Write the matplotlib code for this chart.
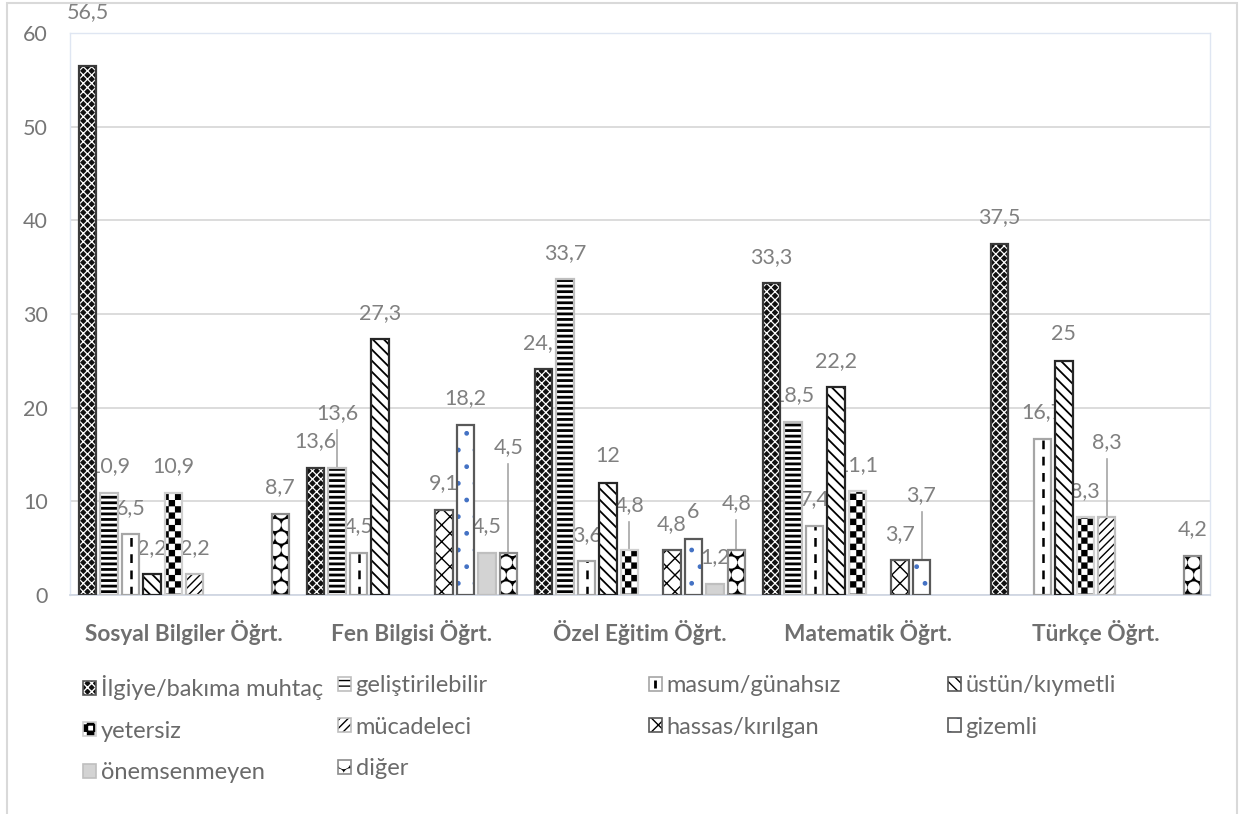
import warnings
warnings.filterwarnings("ignore")
import numpy as np
import matplotlib
matplotlib.use("Agg")
import matplotlib.pyplot as plt
from matplotlib import hatch as mhatch
from matplotlib.path import Path
from matplotlib.patches import Patch, Rectangle
from matplotlib.lines import Line2D
from matplotlib.legend_handler import HandlerTuple

# ---------------- data ----------------
categories = ['Sosyal Bilgiler Öğrt.', 'Fen Bilgisi Öğrt.', 'Özel Eğitim Öğrt.',
              'Matematik Öğrt.', 'Türkçe Öğrt.']
series_names = ['İlgiye/bakıma muhtaç', 'geliştirilebilir', 'masum/günahsız',
                'üstün/kıymetli', 'yetersiz', 'mücadeleci', 'hassas/kırılgan',
                'gizemli', 'önemsenmeyen', 'diğer']
ilgiye = [56.5, 13.6, 24.1, 33.3, 37.5]
gelistirilebilir = [10.9, 13.6, 33.7, 18.5, 0]
masum = [6.5, 4.5, 3.6, 7.4, 16.7]
ustun = [2.2, 27.3, 12, 22.2, 25]
yetersiz = [10.9, 0, 4.8, 11.1, 8.3]
mucadeleci = [2.2, 0, 0, 0, 8.3]
hassas = [0, 9.1, 4.8, 3.7, 0]
gizemli = [0, 18.2, 6, 3.7, 0]
onemsenmeyen = [0, 4.5, 1.2, 0, 0]
diger = [8.7, 4.5, 4.8, 0, 4.2]
series_values = [ilgiye, gelistirilebilir, masum, ustun, yetersiz, mucadeleci,
                 hassas, gizemli, onemsenmeyen, diger]
y_ticks = [0, 10, 20, 30, 40, 50, 60]

# labels moved by hand in the original (group, series) -> label height
label_moves = {(0, 0): 62.2, (1, 1): 19.4, (1, 9): 15.8, (2, 4): 9.6,
               (2, 9): 9.8, (3, 7): 10.7, (4, 5): 16.3}
leader = {(1, 1), (1, 9), (2, 4), (2, 9), (3, 7), (4, 5)}


# ---------------- custom hatches ----------------
class CheckerHatch(mhatch.HatchPatternBase):
    def __init__(self, hatch, density):
        self.n = hatch.count('c') * 16
        self.num_vertices = (self.n * self.n // 2) * 5 if self.n else 0

    def set_vertices_and_codes(self, vertices, codes):
        s = 1.0 / self.n
        verts = []
        for i in range(self.n):
            for j in range(self.n):
                if (i + j) % 2 == 0:
                    x0, y0 = i * s, j * s
                    verts.append([[x0, y0], [x0 + s, y0], [x0 + s, y0 + s],
                                  [x0, y0 + s], [x0, y0]])
        vertices[:] = np.array(verts).reshape(-1, 2)
        c = [Path.MOVETO, Path.LINETO, Path.LINETO, Path.LINETO, Path.CLOSEPOLY]
        codes[:] = np.tile(c, len(verts))


class BigFilledCircles(mhatch.Shapes):
    size = 0.48
    filled = True

    def __init__(self, hatch, density):
        self.num_rows = hatch.count('k') * 8
        path = Path.unit_circle()
        self.shape_vertices = path.vertices
        self.shape_codes = path.codes
        super().__init__(hatch, density)


mhatch._hatch_types.append(CheckerHatch)
mhatch._hatch_types.append(BigFilledCircles)

# face, hatch, hatch colour, hatch lw, edge colour
styles = [
    ('#111111', 'xxxx', 'white', 0.9, '#3a3a3a'),
    ('white', '---', 'black', 2.0, '#bfbfbf'),
    ('white', None, 'black', 1.0, '#a6a6a6'),
    ('white', '\\\\\\', 'black', 1.3, '#262626'),
    ('white', 'c', 'black', 0.1, '#d0d0d0'),
    ('white', '////', 'black', 1.0, '#bfbfbf'),
    ('white', 'xx', 'black', 1.0, '#595959'),
    ('white', '.', '#4472c4', 1.0, '#595959'),
    ('#d3d3d3', None, 'black', 1.0, '#bfbfbf'),
    ('black', 'k', 'white', 0.1, '#8c8c8c'),
]

# ---------------- figure ----------------
plt.rcParams['font.family'] = ['Lato', 'DejaVu Sans']
W, H = 1239, 814
fig = plt.figure(figsize=(W / 100, H / 100), dpi=100)
ax = fig.add_axes([70 / W, 1 - 595 / H, 1140 / W, 562 / H])

n_groups = len(categories)
centers = np.arange(n_groups) + 0.5
slot = 21.4 / 228
width = 17.5 / 228

label_color = '#808080'
label_size = 15.5
handles = []
for si, (vals, st) in enumerate(zip(series_values, styles)):
    face, hatch, hcol, hlw, ecol = st
    vals = np.asarray(vals, dtype=float)
    xs = centers + (si - 4.5) * slot
    m = vals > 0
    with plt.rc_context({'hatch.linewidth': hlw}):
        fill = ax.bar(xs[m], vals[m], width, color=face, hatch=hatch,
                      edgecolor=hcol, linewidth=0, zorder=3)
        for p in fill:
            if hasattr(p, 'set_hatch_linewidth'):
                p.set_hatch_linewidth(hlw)
    outl = ax.bar(xs[m], vals[m], width, fill=False, edgecolor=ecol,
                  linewidth=1.6, zorder=4)
    if si == 2:
        for p in outl:
            cx = p.get_x() + p.get_width() / 2
            ax.plot([cx, cx], [0, p.get_height()], color='black', lw=1.8,
                    ls=(0, (3.5, 3)), zorder=3.5, solid_capstyle='butt')
    # legend handle
    with plt.rc_context({'hatch.linewidth': hlw}):
        hp = Patch(facecolor=face, hatch=hatch, edgecolor=hcol, linewidth=0)
        if hasattr(hp, 'set_hatch_linewidth'):
            hp.set_hatch_linewidth(hlw)
    op = Patch(fill=False, edgecolor=ecol if si not in (0, 3) else '#595959',
               linewidth=1.2)
    if si == 2:
        handles.append((hp, op, Line2D([], [], marker='|', color='black',
                                       markersize=6, mew=2, ls='none')))
    else:
        handles.append((hp, op))

    # data labels
    for gi in np.where(m)[0]:
        v = vals[gi]
        txt = ('%g' % v).replace('.', ',')
        x = xs[gi]
        if (gi, si) in label_moves:
            ly = label_moves[(gi, si)]
            ax.text(x, ly, txt, ha='center', va='center', fontsize=label_size,
                    color=label_color, zorder=2.5, clip_on=False)
            if (gi, si) in leader:
                ax.plot([x, x], [v, ly - 1.8], color='#a6a6a6', lw=1.2,
                        zorder=2.4)
        else:
            ax.annotate(txt, xy=(x, v), xytext=(0, 19),
                        textcoords='offset points', ha='center', va='center',
                        fontsize=label_size, color=label_color, zorder=2.5)

ax.set_xlim(0, n_groups)
ax.set_ylim(0, 60)
ax.set_yticks(y_ticks)
ax.set_yticklabels([str(t) for t in y_ticks])
ax.set_xticks(centers)
ax.set_xticklabels(categories, fontweight='bold')
ax.tick_params(axis='y', length=0, pad=16, labelsize=15.5, labelcolor='#767676')
ax.tick_params(axis='x', length=0, pad=18, labelsize=16.3, labelcolor='#6f6f6f')
ax.yaxis.grid(True, color='#d9d9d9', lw=1.3, zorder=0)
ax.set_axisbelow(True)
for s in ('left', 'right', 'top'):
    ax.spines[s].set_color('#dfe6f2')
    ax.spines[s].set_linewidth(1.0)
ax.spines['bottom'].set_color('#d0d7e3')
ax.spines['bottom'].set_linewidth(1.3)

# legend: 4 columns placed like the original
col_x = [83, 338, 649, 948]
cols = [[0, 4, 8], [1, 5, 9], [2, 6], [3, 7]]
for cx, idxs in zip(col_x, cols):
    fig.legend([handles[i] for i in idxs], [series_names[i] for i in idxs],
               loc='upper left', bbox_to_anchor=(cx / W, 1 - 675 / H),
               frameon=False, fontsize=17, labelcolor='#6a6a6a',
               handlelength=0.55, handleheight=0.55, handletextpad=0.2,
               labelspacing=0.87, borderpad=0, borderaxespad=0,
               handler_map={tuple: HandlerTuple(ndivide=1, pad=0)})

# chart border
fig.patches.append(Rectangle((7 / W, -0.05), (1237 - 7) / W, 1.05 - 3 / H,
                             transform=fig.transFigure, fill=False,
                             edgecolor='#d9d9d9', linewidth=1.5))

fig.savefig('out.png', dpi=100)
